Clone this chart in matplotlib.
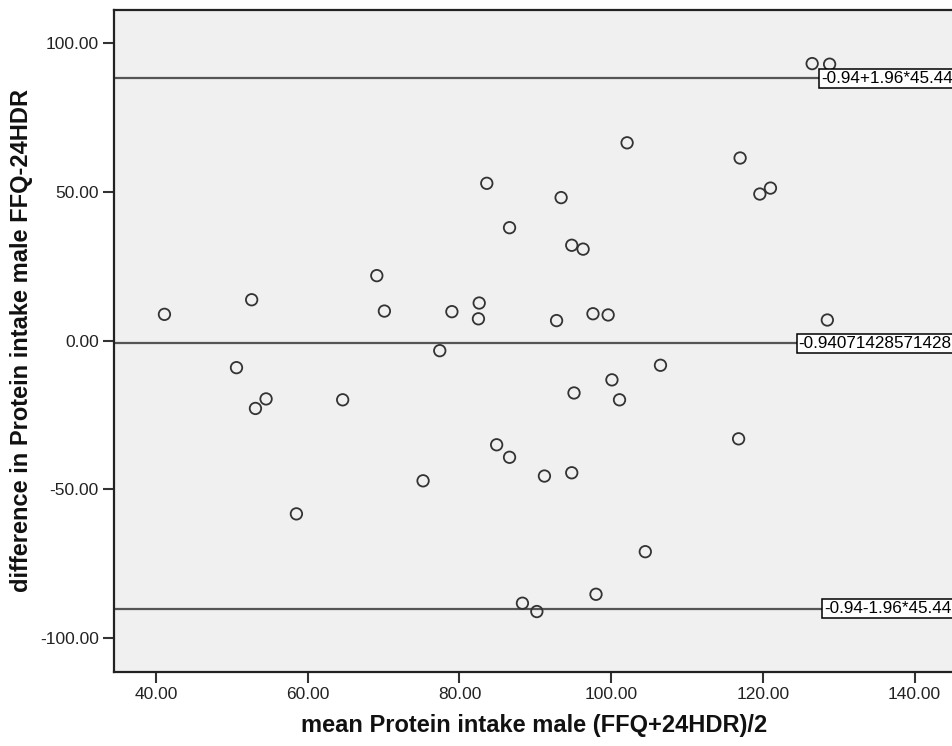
import matplotlib
matplotlib.use("Agg")
import matplotlib.pyplot as plt
from matplotlib.ticker import FormatStrFormatter

plt.rcParams['font.family'] = ['Liberation Sans', 'DejaVu Sans']

# mean of FFQ and 24HDR protein intake (x) and their difference (y), one pair per subject
mean_intake = [41.1, 52.6, 69.1, 70.1, 79.0, 82.6, 82.5, 83.6, 86.6, 126.5,
               128.8, 102.1, 93.4, 94.8, 96.3, 92.8, 97.6, 99.6, 117.0, 119.6,
               121.0, 128.5, 50.6, 54.5, 53.1, 64.6, 77.4, 58.5, 75.2, 84.9,
               86.6, 88.3, 90.2, 106.5, 100.1, 95.1, 101.1, 116.8, 91.2, 94.8,
               104.5, 98.0]
diff_intake = [8.8, 13.7, 21.8, 9.9, 9.7, 12.6, 7.3, 52.8, 37.9, 93.0,
               92.8, 66.4, 48.0, 32.0, 30.7, 6.7, 9.0, 8.6, 61.3, 49.2,
               51.2, 6.9, -9.1, -19.6, -22.8, -19.9, -3.4, -58.2, -47.1, -35.0,
               -39.2, -88.2, -91.0, -8.3, -13.2, -17.6, -19.9, -33.0, -45.5, -44.4,
               -70.9, -85.2]

mean_diff = -0.94071428571428
sd_diff = 45.44

x_ticks = [40, 60, 80, 100, 120, 140]
y_ticks = [-100, -50, 0, 50, 100]

fig = plt.figure(figsize=(9.53, 7.46), dpi=100)
ax = fig.add_axes([114 / 953, 1 - 672 / 746, 840 / 953, 662 / 746])
ax.set_facecolor('#f0f0f0')

ax.scatter(mean_intake, diff_intake, s=68, facecolors='none',
           edgecolors='#333333', linewidths=1.3, zorder=3)

# Bland-Altman lines: mean difference and limits of agreement
lines = [
    (mean_diff + 1.96 * sd_diff, '-0.94+1.96*45.44', 0.842),
    (mean_diff, '-0.94071428571428', 0.815),
    (mean_diff - 1.96 * sd_diff, '-0.94-1.96*45.44', 0.845),
]
for yv, label, xpos in lines:
    ax.axhline(yv, color='#555555', lw=1.6, zorder=2)
    ax.text(xpos, yv, label, transform=ax.get_yaxis_transform(),
            ha='left', va='center', fontsize=12.3, color='black', zorder=4,
            bbox=dict(boxstyle='square,pad=0.12', fc='white', ec='black', lw=1.1))

ax.set_xlim(34.45, 145.2)
ax.set_ylim(-111.3, 111.0)
ax.set_xticks(x_ticks)
ax.set_yticks(y_ticks)
ax.xaxis.set_major_formatter(FormatStrFormatter('%.2f'))
ax.yaxis.set_major_formatter(FormatStrFormatter('%.2f'))
ax.tick_params(axis='both', direction='out', length=8, width=1.5,
               color='#333333', labelsize=12.5, labelcolor='#222222', pad=3)

for side in ['left', 'bottom', 'top']:
    ax.spines[side].set_color('#222222')
    ax.spines[side].set_linewidth(1.6)
ax.spines['right'].set_visible(False)

ax.set_xlabel('mean Protein intake male (FFQ+24HDR)/2', fontsize=17,
              fontweight='bold', color='#111111')
ax.set_ylabel('difference in Protein intake male FFQ-24HDR', fontsize=17,
              fontweight='bold', color='#111111')
ax.xaxis.set_label_coords(0.5, -0.064)
ax.yaxis.set_label_coords(-0.097, 0.5)

fig.savefig('out.png', dpi=100, facecolor='white')
plt.close(fig)
